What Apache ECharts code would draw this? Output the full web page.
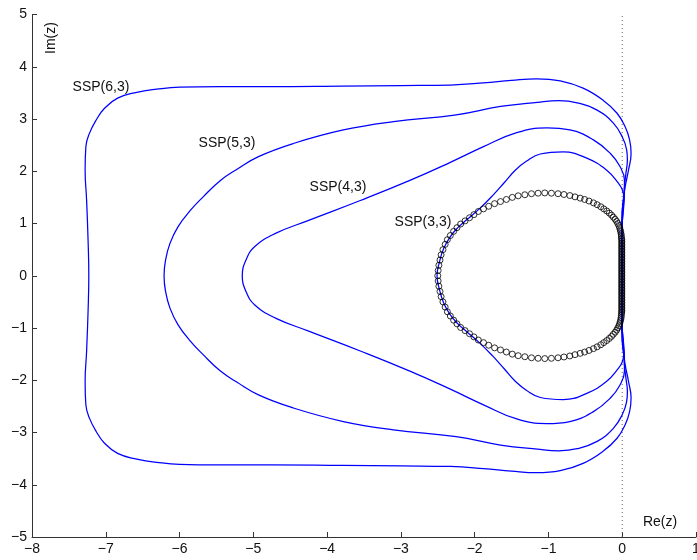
<!DOCTYPE html>
<html>
<head>
<meta charset="utf-8">
<script src="https://cdn.jsdelivr.net/npm/echarts@6/dist/echarts.min.js"></script>
<style>html,body{margin:0;padding:0;background:#fff}#c{width:697px;height:560px}</style>
</head>
<body>
<div id="c"></div>
<script>
// axis ranges / ticks
const xRange = [-8, 1];
const yRange = [-5, 5];
const tickStep = 1;

// curve labels
const curveNames = ['SSP(6,3)', 'SSP(5,3)', 'SSP(4,3)', 'SSP(3,3)'];

// stability region boundaries (Re, Im)
const ssp63 = [[0,0],[-0.01,0.7],[0,1.26],[0.04,1.7],[0.085,2.02],[0.12,2.34],[0.1,2.6],[0.04,2.85],[-0.07,3.11],[-0.26,3.36],[-0.53,3.59],[-0.84,3.73],[-1.16,3.77],[-1.5,3.74],[-1.88,3.69],[-2.33,3.65],[-3.0,3.64],[-3.8,3.63],[-4.77,3.62],[-5.45,3.62],[-6.0,3.61],[-6.31,3.57],[-6.58,3.51],[-6.84,3.4],[-7.02,3.2],[-7.13,2.98],[-7.22,2.73],[-7.27,2.47],[-7.28,2.02],[-7.26,1.45],[-7.24,0.68],[-7.23,0],
  [-7.24,-0.68],[-7.26,-1.45],[-7.28,-2.02],[-7.27,-2.47],[-7.22,-2.73],[-7.13,-2.98],[-7.02,-3.2],[-6.84,-3.4],[-6.58,-3.51],[-6.31,-3.57],[-6.0,-3.61],[-5.45,-3.62],[-4.77,-3.62],[-3.8,-3.63],[-3.0,-3.64],[-2.33,-3.65],[-1.88,-3.69],[-1.5,-3.74],[-1.16,-3.77],[-0.84,-3.73],[-0.53,-3.59],[-0.26,-3.36],[-0.07,-3.11],[0.04,-2.85],[0.1,-2.6],[0.12,-2.34],[0.085,-2.02],[0.04,-1.7],[0,-1.26],[-0.01,-0.7],[0,0]];

const ssp53 = [[0,0],[-0.005,0.7],[0,1.2],[0.02,1.45],[0.03,1.7],[0.05,1.96],[0.07,2.22],[0.06,2.41],[0,2.66],[-0.12,2.92],[-0.34,3.17],[-0.61,3.31],[-0.86,3.35],[-1.15,3.32],[-1.65,3.24],[-2.25,3.08],[-3.1,2.95],[-3.78,2.79],[-4.46,2.53],[-4.93,2.28],[-5.22,2.04],[-5.45,1.82],[-5.68,1.51],[-5.86,1.24],[-6.02,0.94],[-6.13,0.62],[-6.19,0.3],[-6.21,0],
  [-6.19,-0.3],[-6.13,-0.62],[-6.02,-0.94],[-5.86,-1.24],[-5.68,-1.51],[-5.45,-1.82],[-5.22,-2.04],[-4.93,-2.28],[-4.46,-2.53],[-3.78,-2.79],[-3.1,-2.95],[-2.25,-3.08],[-1.65,-3.24],[-1.15,-3.32],[-0.86,-3.35],[-0.61,-3.31],[-0.34,-3.17],[-0.12,-2.92],[0,-2.66],[0.06,-2.41],[0.07,-2.22],[0.05,-1.96],[0.03,-1.7],[0.02,-1.45],[0,-1.2],[-0.005,-0.7],[0,0]];

const ssp43 = [[0,0],[-0.005,0.6],[0,1.0],[0.02,1.32],[0.03,1.58],[0.03,1.83],[-0.03,2.09],[-0.16,2.34],[-0.39,2.6],[-0.71,2.79],[-1.02,2.83],[-1.43,2.74],[-1.88,2.47],[-2.33,2.17],[-2.87,1.83],[-3.55,1.44],[-4.25,1.06],[-4.7,0.81],[-4.98,0.56],[-5.1,0.3],[-5.15,0],
  [-5.1,-0.3],[-4.98,-0.56],[-4.7,-0.81],[-4.25,-1.06],[-3.55,-1.44],[-2.87,-1.83],[-2.33,-2.17],[-1.88,-2.47],[-1.43,-2.74],[-1.02,-2.83],[-0.71,-2.79],[-0.39,-2.6],[-0.16,-2.34],[-0.03,-2.09],[0.03,-1.83],[0.03,-1.58],[0.02,-1.32],[0,-1.0],[-0.005,-0.6],[0,0]];

const ssp33 = [[0,0],[-0.005,0.5],[0,1.0],[0.015,1.3],[0.02,1.5],[0,1.65],[-0.05,1.77],[-0.21,2.02],[-0.48,2.25],[-0.8,2.37],[-1.11,2.33],[-1.3,2.19],[-1.45,2.02],[-1.6,1.78],[-1.76,1.53],[-1.93,1.29],[-2.1,1.08],[-2.22,0.93],[-2.33,0.75],[-2.42,0.52],[-2.48,0.25],[-2.51,0],
  [-2.48,-0.25],[-2.42,-0.52],[-2.33,-0.75],[-2.22,-0.93],[-2.1,-1.08],[-1.93,-1.29],[-1.76,-1.53],[-1.6,-1.78],[-1.45,-2.02],[-1.3,-2.19],[-1.11,-2.33],[-0.8,-2.37],[-0.48,-2.25],[-0.21,-2.02],[-0.05,-1.77],[0,-1.65],[0.02,-1.5],[0.015,-1.3],[0,-1.0],[-0.005,-0.5],[0,0]];

// circle markers (black)
const circles = [
  [-2.50,0.00],[-2.495,0.10],[-2.485,0.20],[-2.47,0.30],[-2.455,0.40],[-2.43,0.50],[-2.40,0.60],[-2.37,0.69],[-2.33,0.77],[-2.285,0.85],[-2.24,0.92],[-2.19,0.99],[-2.13,1.05],[-2.07,1.11],[-2.01,1.17],[-1.95,1.23],[-1.88,1.28],[-1.81,1.33],[-1.73,1.38],[-1.65,1.42],[-1.57,1.46],[-1.49,1.50],[-1.41,1.53],[-1.32,1.55],[-1.23,1.57],[-1.14,1.58],[-1.05,1.585],[-0.96,1.58],[-0.87,1.57],[-0.79,1.555],[-0.71,1.535],[-0.64,1.51],[-0.57,1.485],[-0.51,1.46],[-0.45,1.43],[-0.39,1.395],[-0.34,1.36],[-0.29,1.32],[-0.25,1.28],[-0.21,1.24],[-0.175,1.20],[-0.145,1.16],[-0.12,1.12],[-0.095,1.08],[-0.075,1.04],[-0.06,1.00],[-0.045,0.96],[-0.035,0.92],[-0.027,0.88],[-0.02,0.84],[-0.015,0.80],[-0.012,0.76],[-0.01,0.72],
  [-0.006,0.69],[-0.006,0.66],[-0.006,0.63],[-0.006,0.60],[-0.006,0.57],[-0.006,0.54],[-0.006,0.51],[-0.006,0.48],[-0.006,0.45],[-0.006,0.42],[-0.006,0.39],[-0.006,0.36],[-0.006,0.33],[-0.006,0.30],[-0.006,0.27],[-0.006,0.24],[-0.006,0.21],[-0.006,0.18],[-0.006,0.15],[-0.006,0.12],[-0.006,0.09],[-0.006,0.06],[-0.006,0.03],[-0.006,0.00],
  [-0.006,-0.03],[-0.006,-0.06],[-0.006,-0.09],[-0.006,-0.12],[-0.006,-0.15],[-0.006,-0.18],[-0.006,-0.21],[-0.006,-0.24],[-0.006,-0.27],[-0.006,-0.30],[-0.006,-0.33],[-0.006,-0.36],[-0.006,-0.39],[-0.006,-0.42],[-0.006,-0.45],[-0.006,-0.48],[-0.006,-0.51],[-0.006,-0.54],[-0.006,-0.57],[-0.006,-0.60],[-0.006,-0.63],[-0.006,-0.66],[-0.006,-0.69],
  [-0.01,-0.72],[-0.012,-0.76],[-0.015,-0.80],[-0.02,-0.84],[-0.027,-0.88],[-0.035,-0.92],[-0.045,-0.96],[-0.06,-1.00],[-0.075,-1.04],[-0.095,-1.08],[-0.12,-1.12],[-0.145,-1.16],[-0.175,-1.20],[-0.21,-1.24],[-0.25,-1.28],[-0.29,-1.32],[-0.34,-1.36],[-0.39,-1.395],[-0.45,-1.43],[-0.51,-1.46],[-0.57,-1.485],[-0.64,-1.51],[-0.71,-1.535],[-0.79,-1.555],[-0.87,-1.57],[-0.96,-1.58],[-1.05,-1.585],[-1.14,-1.58],[-1.23,-1.57],[-1.32,-1.55],[-1.41,-1.53],[-1.49,-1.50],[-1.57,-1.46],[-1.65,-1.42],[-1.73,-1.38],[-1.81,-1.33],[-1.88,-1.28],[-1.95,-1.23],[-2.01,-1.17],[-2.07,-1.11],[-2.13,-1.05],[-2.19,-0.99],[-2.24,-0.92],[-2.285,-0.85],[-2.33,-0.77],[-2.37,-0.69],[-2.40,-0.60],[-2.43,-0.50],[-2.455,-0.40],[-2.47,-0.30],[-2.485,-0.20],[-2.495,-0.10]
];

// imaginary axis reference line
const imagAxisLine = [[0,-5],[0,5]];

const FONT = "'Liberation Sans', Arial, Helvetica, sans-serif";
const chart = echarts.init(document.getElementById('c'), null, {renderer: 'canvas'});
const minus = v => String(v).replace('-', '\u2212');
const blue = '#0000ff';
function curve(data) {
  return {type: 'line', data: data, smooth: 0.45, showSymbol: false, symbol: 'none',
    lineStyle: {color: blue, width: 1.25}, z: 3, silent: true};
}
chart.setOption({
  animation: false,
  backgroundColor: '#fff',
  grid: {left: 32, right: 1, top: 14.5, bottom: 23, containLabel: false, outerBoundsMode: 'none'},
  xAxis: {type: 'value', min: xRange[0], max: xRange[1], interval: tickStep,
    axisLine: {show: true, onZero: false, lineStyle: {color: '#333', width: 1}},
    axisTick: {show: true, inside: true, length: 5, lineStyle: {color: '#333'}},
    axisLabel: {color: '#111', fontSize: 14, fontFamily: FONT, margin: 5, formatter: minus, hideOverlap: false},
    splitLine: {show: false}},
  yAxis: {type: 'value', min: yRange[0], max: yRange[1], interval: tickStep,
    axisLine: {show: true, onZero: false, lineStyle: {color: '#333', width: 1}},
    axisTick: {show: true, inside: true, length: 5, lineStyle: {color: '#333'}},
    axisLabel: {color: '#111', fontSize: 14, fontFamily: FONT, margin: 5, formatter: minus},
    splitLine: {show: false}},
  series: [
    {type: 'line', data: imagAxisLine, showSymbol: false, symbol: 'none', silent: true,
      lineStyle: {color: '#666', width: 1, type: [1, 3]}, z: 1},
    curve(ssp63), curve(ssp53), curve(ssp43), curve(ssp33),
    {type: 'scatter', data: circles, symbol: 'circle', symbolSize: 6, silent: true, z: 4,
      itemStyle: {color: 'rgba(0,0,0,0)', borderColor: '#000', borderWidth: 1}}
  ],
  graphic: [
    {type: 'text', x: 101, y: 87, style: {text: curveNames[0], font: '14px ' + FONT, fill: '#111', align: 'center', verticalAlign: 'middle'}},
    {type: 'text', x: 227, y: 143.5, style: {text: curveNames[1], font: '14px ' + FONT, fill: '#111', align: 'center', verticalAlign: 'middle'}},
    {type: 'text', x: 338, y: 187, style: {text: curveNames[2], font: '14px ' + FONT, fill: '#111', align: 'center', verticalAlign: 'middle'}},
    {type: 'text', x: 423, y: 222, style: {text: curveNames[3], font: '14px ' + FONT, fill: '#111', align: 'center', verticalAlign: 'middle'}},
    {type: 'text', x: 660, y: 522, style: {text: 'Re(z)', font: '14px ' + FONT, fill: '#111', align: 'center', verticalAlign: 'middle'}},
    {type: 'text', x: 51, y: 38, rotation: Math.PI / 2, style: {text: 'Im(z)', font: '14px ' + FONT, fill: '#111', align: 'center', verticalAlign: 'middle'}}
  ]
});
</script>
</body>
</html>
